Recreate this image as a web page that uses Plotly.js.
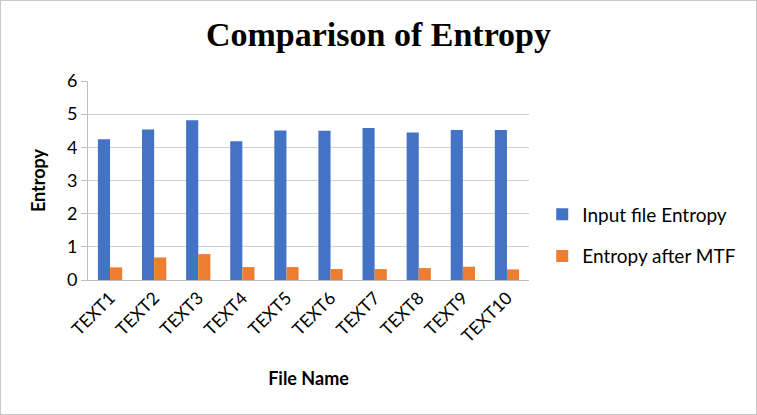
<!DOCTYPE html>
<html><head><meta charset="utf-8">
<script src="https://cdn.plot.ly/plotly-3.0.1.min.js"></script>
<style>
html,body{margin:0;padding:0;background:#fff;}
#wrap{position:relative;width:757px;height:415px;}
#chart{width:757px;height:415px;}
#frame{position:absolute;left:0;top:0;width:755px;height:413px;border:1px solid #c8c8c8;pointer-events:none;}
</style>
</head><body>
<div id="wrap"><div id="chart"></div><div id="frame"></div></div>
<script>
const categories = ["TEXT1","TEXT2","TEXT3","TEXT4","TEXT5","TEXT6","TEXT7","TEXT8","TEXT9","TEXT10"];
const inputEntropy = [4.24,4.54,4.82,4.18,4.51,4.50,4.58,4.45,4.52,4.52];
const mtfEntropy = [0.38,0.68,0.78,0.39,0.39,0.33,0.33,0.36,0.40,0.32];
const seriesNames = ["Input file Entropy","Entropy after MTF"];
const yTicks = [0,1,2,3,4,5,6];

const font = "Lato, 'Open Sans', 'Liberation Sans', sans-serif";
const traces = [
  {type:"bar", x:categories, y:inputEntropy, name:seriesNames[0], legendgroup:"a",
   marker:{color:"#4472C4"}},
  {type:"bar", x:categories, y:mtfEntropy, name:seriesNames[1], legendgroup:"b",
   marker:{color:"#ED7D31"}}
];
const layout = {
  width:757, height:415,
  margin:{l:88, r:228, t:81, b:135},
  paper_bgcolor:"#fff", plot_bgcolor:"#fff",
  title:{text:"<b>Comparison of Entropy</b>", x:0.5, xanchor:"center", y:0.918, yanchor:"middle",
    font:{family:"'Liberation Serif','Times New Roman',serif", size:34, color:"#000"}},
  barmode:"group", bargap:0.45, bargroupgap:0,
  xaxis:{tickangle:-45, tickfont:{family:font, size:17.5, color:"#000"},
    showline:true, linecolor:"#bfbfbf", linewidth:1, ticks:"", showgrid:false,
    title:{text:"<b>File Name</b>", font:{family:font, size:18, color:"#000"}, standoff:26}},
  yaxis:{range:[0,6], tickvals:yTicks, tickfont:{family:font, size:18, color:"#000"},
    showgrid:true, gridcolor:"#d0d0d0", gridwidth:1, zeroline:false,
    showline:true, linecolor:"#bfbfbf", ticks:"outside", ticklen:6, tickcolor:"#bfbfbf",
    title:{text:"<b>Entropy</b>", font:{family:font, size:18, color:"#000"}, standoff:16}},
  legend:{x:1.03, xanchor:"left", y:0.224, yanchor:"middle", tracegroupgap:14,
    font:{family:font, size:19, color:"#000"}, bgcolor:"rgba(0,0,0,0)"},
  showlegend:true
};
Plotly.newPlot("chart", traces, layout, {displayModeBar:false, staticPlot:true});
</script>
</body></html>
